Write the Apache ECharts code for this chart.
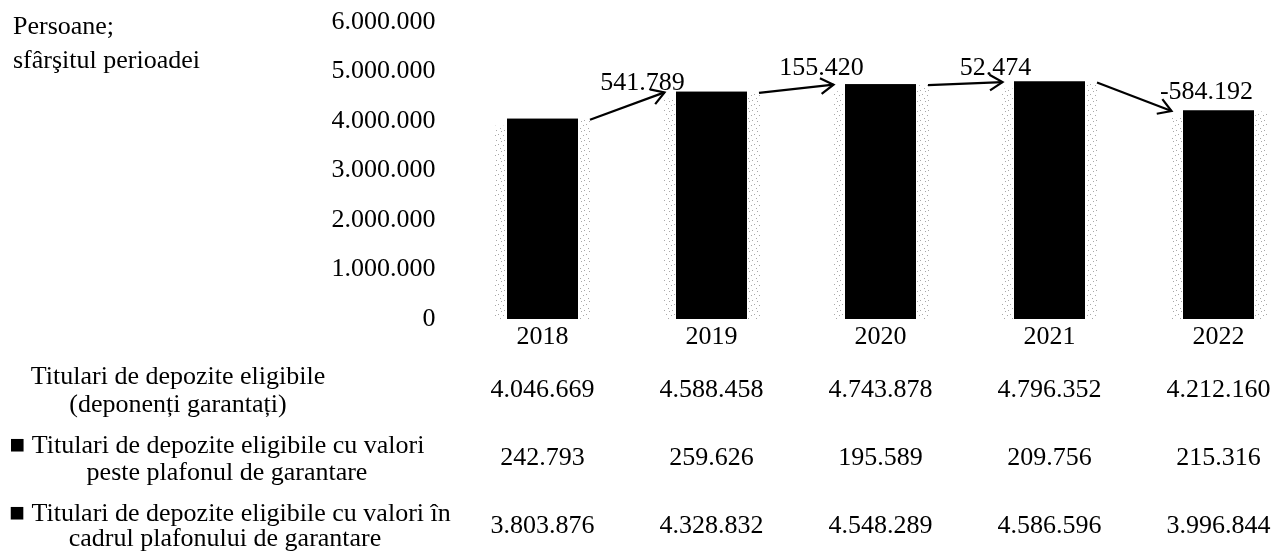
<!DOCTYPE html>
<html>
<head>
<meta charset="utf-8">
<script src="https://cdn.jsdelivr.net/npm/echarts@6/dist/echarts.min.js"></script>
<style>
html,body{margin:0;padding:0;background:#fff;}
#chart{width:1279px;height:553px;}
</style>
</head>
<body>
<div id="chart"></div>
<script>
// ---- data ----
const years = ['2018', '2019', '2020', '2021', '2022'];
const totalHolders = [4046669, 4588458, 4743878, 4796352, 4212160];
const aboveCeiling = [242793, 259626, 195589, 209756, 215316];
const withinCeiling = [3803876, 4328832, 4548289, 4586596, 3996844];
const yearChanges = [541789, 155420, 52474, -584192];
const yMin = 0, yMax = 6000000, yStep = 1000000;
const unitTitle = ['Persoane;', 'sfârşitul perioadei'];
const rowTitles = [
  ['Titulari de depozite eligibile', '(deponenți garantați)'],
  ['■ Titulari de depozite eligibile cu valori', 'peste plafonul de garantare'],
  ['■ Titulari de depozite eligibile cu valori în', 'cadrul plafonului de garantare']
];

// ---- helpers / styles ----
const FONT = '"Liberation Serif", "Times New Roman", serif';
const FS = 26;
function fmt(v) {
  const s = String(Math.abs(v)).replace(/\B(?=(\d{3})+(?!\d))/g, '.');
  return (v < 0 ? '-' : '') + s;
}
// stipple pattern imitating the grey scan edges
const pat = document.createElement('canvas');
pat.width = 8; pat.height = 10;
(function () {
  const c = pat.getContext('2d');
  c.fillStyle = 'rgba(110,110,110,0.6)';
  [[0,0],[5,1],[2,4],[7,5],[4,8]].forEach(p => c.fillRect(p[0], p[1], 1, 1));
})();

const chart = echarts.init(document.getElementById('chart'), null, {renderer: 'canvas'});

const labelOffsets = [[-22, -9], [-12, -17], [-7, -14], [35, -19]];
const tableOffsets = [53, 121, 189];
const tableRows = [totalHolders, aboveCeiling, withinCeiling];

const xAxes = [{
  type: 'category', data: years, boundaryGap: false,
  axisLine: {show: false}, axisTick: {show: false}, splitLine: {show: false},
  axisLabel: {interval: 0, margin: 5, color: '#000', fontFamily: FONT, fontSize: FS}
}];
tableRows.forEach((row, k) => {
  xAxes.push({
    type: 'category', data: row.map(fmt), boundaryGap: false, position: 'bottom',
    offset: tableOffsets[k],
    axisLine: {show: false}, axisTick: {show: false}, splitLine: {show: false},
    axisLabel: {interval: 0, margin: 5, color: '#000', fontFamily: FONT, fontSize: FS}
  });
});

const graphics = [];
graphics.push({type: 'text', x: 13, y: 27, style: {text: unitTitle[0], font: FS + 'px ' + FONT, fill: '#000', verticalAlign: 'middle'}});
graphics.push({type: 'text', x: 13, y: 61, style: {text: unitTitle[1], font: FS + 'px ' + FONT, fill: '#000', verticalAlign: 'middle'}});
const rowLineY = [[377, 405], [446, 473], [514, 539]];
const rowLineX = [[178, 178], [217, 227], [230, 225]];
rowTitles.forEach((lines, k) => {
  lines.forEach((t, j) => {
    graphics.push({type: 'text', x: rowLineX[k][j], y: rowLineY[k][j],
      style: {text: t, font: FS + 'px ' + FONT, fill: '#000', align: 'center', verticalAlign: 'middle'}});
  });
});

const option = {
  animation: false,
  backgroundColor: '#fff',
  grid: {left: 542.5, right: 60.5, top: 22, bottom: 234, containLabel: false},
  xAxis: xAxes,
  yAxis: {
    type: 'value', min: yMin, max: yMax, interval: yStep,
    axisLine: {show: false}, axisTick: {show: false}, splitLine: {show: false},
    axisLabel: {margin: 107, color: '#000', fontFamily: FONT, fontSize: FS, formatter: v => fmt(v)}
  },
  graphic: graphics,
  series: [
    {
      type: 'custom', name: 'edges', coordinateSystem: 'cartesian2d', z: 1,
      data: years.map((y, i) => [i, totalHolders[i]]),
      encode: {x: 0, y: 1},
      renderItem: function (params, api) {
        const top = api.coord([api.value(0), api.value(1)]);
        const bot = api.coord([api.value(0), 0]);
        const h = bot[1] - top[1];
        return {type: 'group', children: [
          {type: 'rect', shape: {x: top[0] - 47.5, y: top[1] + 7, width: 11, height: h - 7}, style: {fill: {image: pat, repeat: 'repeat'}}},
          {type: 'rect', shape: {x: top[0] + 36.5, y: top[1] + 1, width: 12, height: h - 1}, style: {fill: {image: pat, repeat: 'repeat'}}}
        ]};
      }
    },
    {
      type: 'bar', name: 'Titulari de depozite eligibile (deponenți garantați)', data: totalHolders,
      barWidth: 71, barGap: '-100%', itemStyle: {color: '#000'}, z: 2
    },
    {
      type: 'bar', name: rowTitles[2].join(' '), stack: 'tot', data: withinCeiling,
      barWidth: 71, barGap: '-100%', itemStyle: {color: '#000'}, z: 3
    },
    {
      type: 'bar', name: rowTitles[1].join(' '), stack: 'tot', data: aboveCeiling,
      barWidth: 71, barGap: '-100%', itemStyle: {color: '#000'}, z: 3
    },
    {
      type: 'custom', name: 'changes', coordinateSystem: 'cartesian2d', z: 5,
      data: yearChanges.map((c, i) => [i, totalHolders[i], i + 1, totalHolders[i + 1]]),
      encode: {x: [0, 2], y: [1, 3]},
      renderItem: function (params, api) {
        const i = params.dataIndex;
        const p0 = api.coord([api.value(0), api.value(1)]);
        const p1 = api.coord([api.value(2), api.value(3)]);
        const s = [p0[0] + 47.5, p0[1] + 1];
        const e = [p1[0] - 47, p1[1] + 0.5];
        const ang = Math.atan2(e[1] - s[1], e[0] - s[0]);
        const L = 15, A = 0.55;
        const h1 = [e[0] - L * Math.cos(ang - A), e[1] - L * Math.sin(ang - A)];
        const h2 = [e[0] - L * Math.cos(ang + A), e[1] - L * Math.sin(ang + A)];
        const off = labelOffsets[i];
        return {type: 'group', children: [
          {type: 'line', shape: {x1: s[0], y1: s[1], x2: e[0], y2: e[1]}, style: {stroke: '#000', lineWidth: 2.2}},
          {type: 'polyline', shape: {points: [h1, e, h2]}, style: {stroke: '#000', lineWidth: 2.2, fill: null}},
          {type: 'text', x: e[0] + off[0], y: e[1] + off[1],
            style: {text: fmt(yearChanges[i]), font: FS + 'px ' + FONT, fill: '#000', align: 'center', verticalAlign: 'middle'}}
        ]};
      }
    }
  ]
};
chart.setOption(option);
</script>
</body>
</html>
